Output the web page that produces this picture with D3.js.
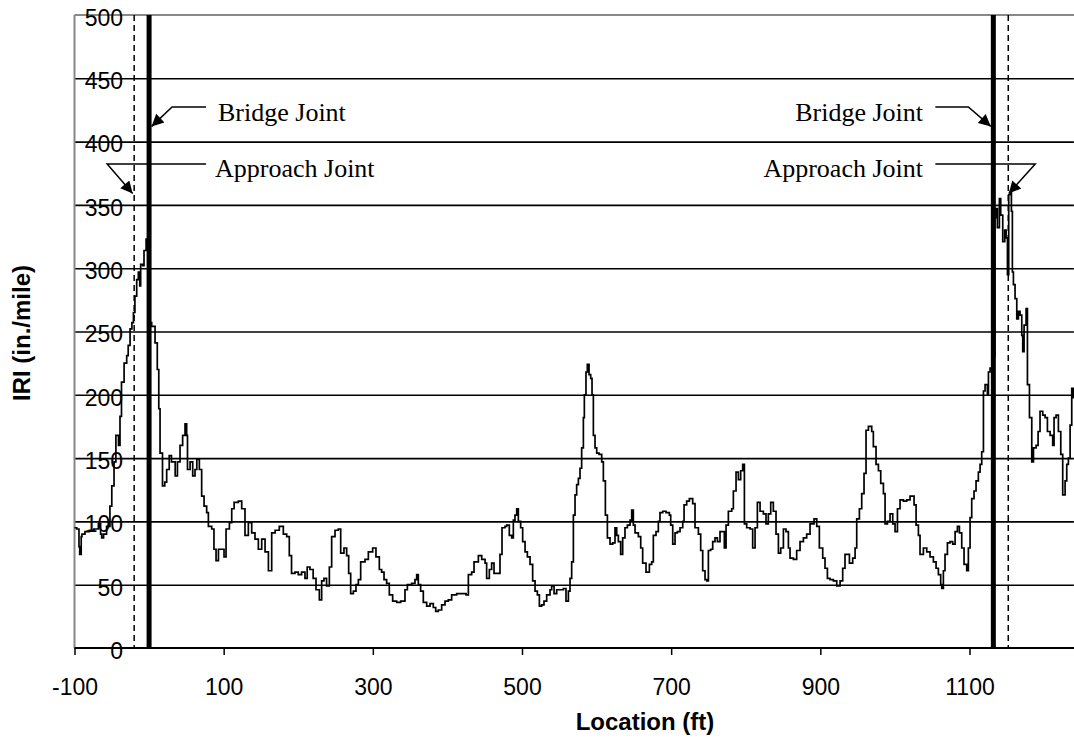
<!DOCTYPE html>
<html>
<head>
<meta charset="utf-8">
<script src="https://cdn.jsdelivr.net/npm/d3@7"></script>
<style>
  html, body { margin: 0; padding: 0; background: #fff; }
  svg { display: block; }
</style>
</head>
<body>
<svg id="chart" width="1074" height="747"></svg>
<script>
// ---------- DATA ----------
const locationFt = [
-100,-97,-94,-93,-91,-90,-86,-80,-74,-68,-65,-63.5,-61,-57,-52.5,-50,-47,-44.5,-41,-39,-37,-33.5,-30,-28,-25.5,-23,-21,-19,-16.6,-14.4,-12.5,-11.3,-8.6,-6.8,-4,-2,
1.3,3.5,8,11,13,14.7,18,21,23.6,27,30,35,38,41.5,45,48.2,50.4,51.5,55,58.5,61.6,64,67.4,70.5,73.7,77.2,79.5,84,87,89.8,93,97.3,100.5,103.2,107.7,110.8,114,119.7,124.2,128.6,133.1,137.6,142,146.5,151,155.5,160,164.4,169,
174.6,180,184.5,188,191,195.6,200,204.5,209,212,215.7,220,223.8,228.3,231.4,234.5,238,241.7,244.8,249.3,253.7,256.9,261.3,264.9,267.6,270.3,273.9,277.4,280.6,283.7,289.5,294,299.8,304.2,308.7,311.8,315,318.5,322.1,326.6,332,337.3,340.9,343.1,346.3,352.1,356.5,358.8,361,364.1,367.7,372.2,376.7,381.1,384.3,387.8,392.3,396.8,401.2,405.7,412.4,419.1,425,428.1,432.5,435.7,441.5,446,450.5,452.6,456.2,
459.3,462.5,467,470.5,473.2,477.2,479.5,483,486.2,488.4,490.6,492.9,495.1,498.2,500.9,504.1,507.2,510.8,514.3,517.5,520.6,523.3,526.4,529.5,533.1,537.6,539.8,543,546.5,551,555.5,559,562.2,564.4,566.6,568.9,571.1,573.3,575.6,577.8,580,582.3,583.6,585.8,587.6,589.9,592.1,593.9,595.7,597.9,600.2,603.3,606.9,609.1,611.8,614.5,618,621.6,624.7,627,629.2,632.3,635,638.1,641.3,644.9,647.1,649.3,651.6,656,659.2,661.8,666.3,670.8,673.9,676.1,679.7,682.8,685,688.7,693.1,697.6,699.4,702.1,705.2,708.3,711.9,715.5,717.3,720.8,724.4,
728.9,732,736.5,739.6,742.3,745.4,747.7,749.9,753,755.7,758.8,762,765.5,768.7,771.3,773.6,776.7,781.2,783.4,787,790.1,793.2,795.9,798.2,801.3,805.8,809.3,812.5,815.6,819.2,823.6,827.2,830.3,833.5,837,840.6,843.8,846.9,850.5,854,857.2,859.4,863.9,868.3,872.8,877.3,881.7,886.2,891.6,895.2,898.7,903.2,906.3,909.5,913,917.5,922,926.5,930,933.1,936.3,939,943.4,946.6,948.8,952.4,955.5,958.6,961.3,964.5,968.9,971.1,974.7,977.9,981,984.6,986.8,990,993.5,997.1,1000.2,1003.4,1006.9,1011.4,1015.8,1020.3,1023.9,
1025.7,1028.4,1031.5,1033.7,1038.2,1042.7,1047.1,1051.6,1055.2,1058.3,1061.4,1062.8,1065,1067.2,1070.4,1073.9,1077.5,1080.7,1083.8,1086.5,1089.6,1092.7,1096.3,1098.5,1100.8,1103,1106.1,1108.8,1111.9,1114.2,1116.4,1118.7,1120.9,1124,1125.4,1127.6,1131,1134,
1135.6,1137.4,1140.1,1141.9,1144.6,1147.3,1149.1,1150.9,1152.6,1154.4,1156.2,1157.5,1158.9,1161.1,1163.4,1165.6,1167.8,1170.1,1171.4,1173.2,1175.9,1177.7,1180.4,1183.5,1185.8,1189.3,1192,1194.6,1198.2,1201.4,1204.5,1208.1,1211.6,1213.4,1216.1,1219.2,1222.4,1225,1228.2,1230.4,1232.6,1234.9,1237.1,1239.3
];
const iriValues = [
95,94,80,74,88,90,92,93,94,98,90,87,90,96,112,128,147,168,160,183,210,225,231,239,252,257,265,278,291,297,286,303,302,314,323,320,
257,254,241,220,189,154,128,131,141,152,147,136,147,160,168,177,168,141,147,136,141,149,141,120,112,107,96,94,78,69,78,78,72,94,99,110,115,116,110,89,99,91,86,78,86,76,61,91,93,
96,90,88,73,59,60,58,60,55,64,62,55,46,38,53,55,49,64,88,93,94,75,79,73,59,43,45,50,54,68,70,76,79,72,62,60,54,51,42,37,36,37,37,46,50,51,54,58,50,45,36,33,35,32,29,30,34,37,38,42,43,43,42,58,60,68,73,70,67,55,62,
67,59,59,74,95,96,97,89,87,101,105,110,100,95,84,76,72,66,53,45,42,33,34,37,42,46,49,43,46,46,47,37,45,55,68,105,121,129,134,142,158,182,200,218,224,216,213,200,168,158,154,153,147,132,105,87,82,83,95,89,84,74,87,95,97,101,109,97,91,88,79,67,60,66,68,89,92,100,107,108,107,105,97,82,91,92,95,100,113,116,118,
114,95,90,77,61,54,53,77,78,84,87,84,92,92,79,97,108,110,124,139,133,140,145,98,95,94,79,95,115,108,106,98,106,115,108,90,75,79,94,92,79,71,70,77,84,87,90,98,102,96,79,71,63,55,54,53,49,53,63,74,74,67,71,79,102,110,122,138,172,175,171,159,145,140,130,122,98,100,106,98,92,110,117,116,117,120,120,
113,97,89,74,79,76,72,68,63,58,50,47,61,74,83,84,82,92,96,91,79,66,61,79,103,118,124,132,139,145,155,203,208,200,218,221,230,340,
347,332,355,342,321,330,324,295,358,360,345,297,287,276,260,266,263,247,234,255,268,208,182,147,158,160,171,187,184,182,171,168,160,182,184,171,153,121,132,145,150,176,205,197
];
const xTickValues = [-100, 100, 300, 500, 700, 900, 1100];
const yTickValues = [0, 50, 100, 150, 200, 250, 300, 350, 400, 450, 500];
const bridgeJoints = [0, 1132];
const approachJoints = [-20, 1152];
const annotationLabels = ["Bridge Joint", "Approach Joint"];
const xTitle = "Location (ft)";
const yTitle = "IRI (in./mile)";

// ---------- LAYOUT ----------
const svg = d3.select("#chart");
const pLeft = 74.5, pRight = 1073.9, pTop = 15, pBottom = 648;
const x = d3.scaleLinear().domain([-100, 1240]).range([pLeft, pRight]);
const y = d3.scaleLinear().domain([0, 500]).range([pBottom, pTop]);
const sans = "'Liberation Sans', Arial, sans-serif";
const serif = "'Liberation Serif', 'Times New Roman', serif";

svg.append("rect").attr("width", 1074).attr("height", 747).attr("fill", "#fff");

// gridlines
const grid = svg.append("g").attr("transform", `translate(${pLeft},0)`)
  .call(d3.axisLeft(y).tickValues(yTickValues.filter(v => v > 0 && v < 500)).tickSize(-(pRight - pLeft)).tickFormat(""));
grid.select(".domain").remove();
grid.selectAll("line").attr("stroke", "#000").attr("stroke-width", 1.6);

// top border + left axis line (gray)
svg.append("line").attr("x1", pLeft).attr("x2", 1074).attr("y1", pTop).attr("y2", pTop)
  .attr("stroke", "#888").attr("stroke-width", 2);
svg.append("line").attr("x1", pLeft).attr("x2", pLeft).attr("y1", pTop).attr("y2", pBottom)
  .attr("stroke", "#888").attr("stroke-width", 2);

// y labels (drawn inside the plot, right-aligned)
const yAxis = svg.append("g").attr("transform", `translate(126,3)`)
  .call(d3.axisLeft(y).tickValues(yTickValues).tickSize(0).tickPadding(3).tickFormat(d => String(d)));
yAxis.select(".domain").remove();
yAxis.selectAll("text").attr("font-family", sans).attr("font-size", 23).attr("fill", "#000");

// data line
const line = d3.line().x((d, i) => x(locationFt[i])).y(d => y(d)).curve(d3.curveStepAfter);
svg.append("path").datum(iriValues).attr("d", line)
  .attr("fill", "none").attr("stroke", "#000").attr("stroke-width", 1.7).attr("stroke-linejoin", "miter");

// x axis
const xAxis = svg.append("g").attr("transform", `translate(0,${pBottom})`)
  .call(d3.axisBottom(x).tickValues(xTickValues).tickSize(7).tickPadding(24).tickFormat(d => String(d)));
xAxis.select(".domain").attr("d", `M${pLeft},0H1074`).attr("stroke", "#000").attr("stroke-width", 2);
xAxis.selectAll("line").attr("stroke", "#000").attr("stroke-width", 1.5);
xAxis.selectAll("text").attr("font-family", sans).attr("font-size", 23).attr("fill", "#000");

// joints
svg.selectAll(".bridge").data(bridgeJoints).join("line").attr("class", "bridge")
  .attr("x1", d => x(d)).attr("x2", d => x(d)).attr("y1", pTop).attr("y2", pBottom)
  .attr("stroke", "#000").attr("stroke-width", 5);
svg.selectAll(".approach").data(approachJoints).join("line").attr("class", "approach")
  .attr("x1", d => x(d)).attr("x2", d => x(d)).attr("y1", pTop).attr("y2", pBottom)
  .attr("stroke", "#000").attr("stroke-width", 1.5).attr("stroke-dasharray", "6,4");

// arrow marker
const defs = svg.append("defs");
defs.append("marker").attr("id", "arr").attr("viewBox", "0 0 10 10").attr("refX", 10).attr("refY", 5)
  .attr("markerUnits", "userSpaceOnUse").attr("markerWidth", 15).attr("markerHeight", 12).attr("orient", "auto")
  .append("path").attr("d", "M0,0L10,5L0,10Z").attr("fill", "#000");

const yBridgeTip = y(412), yApproachTip = y(359);
const yBridgeLine = 107, yApproachLine = 164;
const annots = [
  { pts: [[x(0) + 57, yBridgeLine], [x(0) + 23, yBridgeLine], [x(0) + 2.5, yBridgeTip]], label: annotationLabels[0], tx: 218, anchor: "start", ty: 121 },
  { pts: [[x(0) + 57, yApproachLine], [x(-20) - 27, yApproachLine], [x(-20) - 1.5, yApproachTip]], label: annotationLabels[1], tx: 215, anchor: "start", ty: 177 },
  { pts: [[x(1132) - 58, yBridgeLine], [x(1132) - 25, yBridgeLine], [x(1132) - 2.5, yBridgeTip]], label: annotationLabels[0], tx: 923, anchor: "end", ty: 121 },
  { pts: [[x(1132) - 58, yApproachLine], [x(1152) + 27, yApproachLine], [x(1152) + 0.5, yApproachTip]], label: annotationLabels[1], tx: 923, anchor: "end", ty: 177 }
];
annots.forEach(a => {
  svg.append("path").attr("d", d3.line()(a.pts)).attr("fill", "none").attr("stroke", "#000")
    .attr("stroke-width", 1.5).attr("marker-end", "url(#arr)");
  svg.append("text").attr("x", a.tx).attr("y", a.ty).attr("text-anchor", a.anchor)
    .attr("font-family", serif).attr("font-size", 26).attr("fill", "#000").text(a.label);
});

// titles
svg.append("text").attr("x", 645).attr("y", 730).attr("text-anchor", "middle")
  .attr("font-family", sans).attr("font-weight", "bold").attr("font-size", 24).text(xTitle);
svg.append("text").attr("transform", "translate(30,333) rotate(-90)").attr("text-anchor", "middle")
  .attr("font-family", sans).attr("font-weight", "bold").attr("font-size", 24).text(yTitle);
</script>
</body>
</html>
